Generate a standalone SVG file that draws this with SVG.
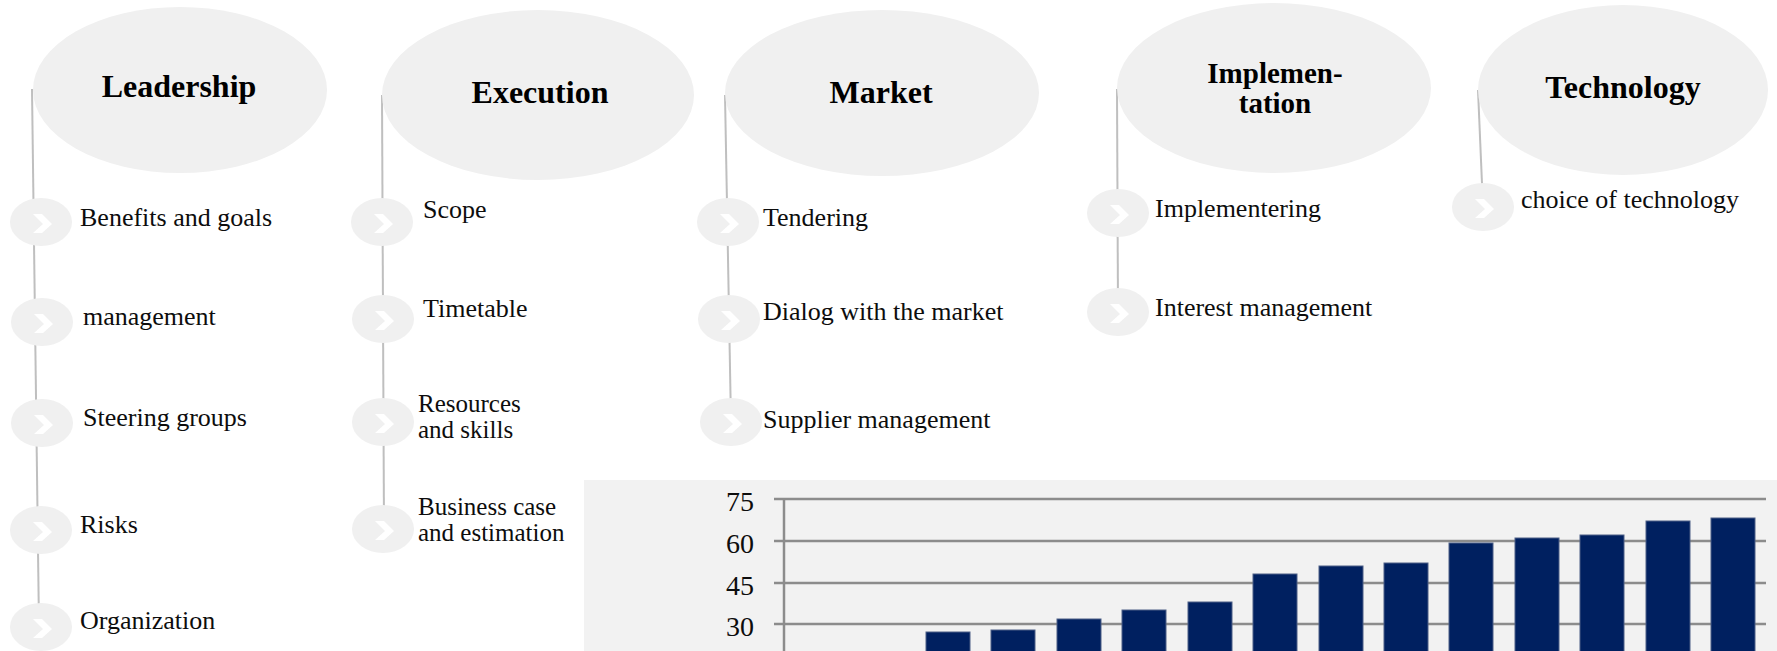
<svg xmlns="http://www.w3.org/2000/svg" width="1777" height="651" viewBox="0 0 1777 651">
<style>
.head{fill:#f0f0f0}
.bul{fill:#f0f0f0}
.chev{fill:#ffffff}
.conn{stroke:#bfbfbf;stroke-width:2;fill:none}
.ht{font-family:"Liberation Serif",serif;font-weight:bold;font-size:32px;fill:#000;text-anchor:middle}
.ht2{font-family:"Liberation Serif",serif;font-weight:bold;font-size:29px;fill:#000;text-anchor:middle}
.it{font-family:"Liberation Serif",serif;font-size:26px;fill:#0d0d0d}
.it2{font-family:"Liberation Serif",serif;font-size:25px;fill:#0d0d0d}
.ax{font-family:"Liberation Serif",serif;font-size:28px;fill:#0d0d0d;text-anchor:end}
.grid{stroke:#8c8c8c;stroke-width:2.5}
.bar{fill:#002060;stroke:#4d5f86;stroke-width:1}
</style>
<defs>
<g id="bullet">
<ellipse cx="0" cy="0" rx="31" ry="24" class="bul"/>
<path class="chev" d="M -8,-8 L 1,-8 L 11,2 L 1,11 L -8,11 L 2,2 Z"/>
</g>
</defs>
<rect width="1777" height="651" fill="#ffffff"/>
<g id="connectors">
<line class="conn" x1="32" y1="89" x2="39" y2="627"/>
<line class="conn" x1="382" y1="95" x2="384" y2="529"/>
<line class="conn" x1="725" y1="95" x2="731" y2="422"/>
<line class="conn" x1="1117" y1="89" x2="1118" y2="312"/>
<line class="conn" x1="1478" y1="90" x2="1483" y2="207"/>
</g>
<g id="leadership">
<ellipse class="head" cx="180" cy="90" rx="147" ry="83"/>
<text class="ht" x="179" y="97">Leadership</text>
</g>
<g id="execution">
<ellipse class="head" cx="538" cy="95" rx="156" ry="85"/>
<text class="ht" x="540" y="103">Execution</text>
</g>
<g id="market">
<ellipse class="head" cx="882" cy="93" rx="157" ry="83"/>
<text class="ht" x="881" y="103">Market</text>
</g>
<g id="implementation">
<ellipse class="head" cx="1274" cy="88" rx="157" ry="85"/>
<text class="ht2" x="1275" y="83">Implemen-</text>
<text class="ht2" x="1275" y="113">tation</text>
</g>
<g id="technology">
<ellipse class="head" cx="1623" cy="90" rx="145" ry="85"/>
<text class="ht" x="1623" y="98">Technology</text>
</g>
<g id="l1"><use href="#bullet" x="41" y="222"/><text class="it" x="80" y="226">Benefits and goals</text></g>
<g id="l2"><use href="#bullet" x="42" y="322"/><text class="it" x="83" y="325">management</text></g>
<g id="l3"><use href="#bullet" x="42" y="423"/><text class="it" x="83" y="426">Steering groups</text></g>
<g id="l4"><use href="#bullet" x="41" y="530"/><text class="it" x="80" y="533">Risks</text></g>
<g id="l5"><use href="#bullet" x="41" y="627"/><text class="it" x="80" y="629">Organization</text></g>
<g id="e1"><use href="#bullet" x="382" y="222"/><text class="it" x="423" y="218">Scope</text></g>
<g id="e2"><use href="#bullet" x="383" y="319"/><text class="it" x="423" y="317">Timetable</text></g>
<g id="e3"><use href="#bullet" x="383" y="422"/><text class="it2" x="418" y="412">Resources</text><text class="it2" x="418" y="438">and skills</text></g>
<g id="e4"><use href="#bullet" x="383" y="529"/><text class="it2" x="418" y="515">Business case</text><text class="it2" x="418" y="541">and estimation</text></g>
<g id="m1"><use href="#bullet" x="728" y="222"/><text class="it" x="763" y="226">Tendering</text></g>
<g id="m2"><use href="#bullet" x="729" y="319"/><text class="it" x="763" y="320">Dialog with the market</text></g>
<g id="m3"><use href="#bullet" x="731" y="422"/><text class="it" x="763" y="428">Supplier management</text></g>
<g id="i1"><use href="#bullet" x="1118" y="213"/><text class="it" x="1155" y="217">Implementering</text></g>
<g id="i2"><use href="#bullet" x="1118" y="312"/><text class="it" x="1155" y="316">Interest management</text></g>
<g id="t1"><use href="#bullet" x="1483" y="207"/><text class="it" x="1521" y="208">choice of technology</text></g>
<g id="chart">
<rect x="584" y="480" width="1193" height="171" fill="#f2f2f2"/>
<line class="grid" x1="774" y1="499" x2="1766" y2="499"/>
<line class="grid" x1="774" y1="541" x2="1766" y2="541"/>
<line class="grid" x1="774" y1="583" x2="1766" y2="583"/>
<line class="grid" x1="774" y1="624" x2="1766" y2="624"/>
<line class="grid" x1="784" y1="499" x2="784" y2="651"/>
<text class="ax" x="754" y="511">75</text>
<text class="ax" x="754" y="553">60</text>
<text class="ax" x="754" y="595">45</text>
<text class="ax" x="754" y="636">30</text>
<rect class="bar" x="926" y="632" width="44" height="30"/>
<rect class="bar" x="991" y="630" width="44" height="30"/>
<rect class="bar" x="1057" y="619" width="44" height="40"/>
<rect class="bar" x="1122" y="610" width="44" height="50"/>
<rect class="bar" x="1188" y="602" width="44" height="60"/>
<rect class="bar" x="1253" y="574" width="44" height="90"/>
<rect class="bar" x="1319" y="566" width="44" height="90"/>
<rect class="bar" x="1384" y="563" width="44" height="90"/>
<rect class="bar" x="1449" y="543" width="44" height="110"/>
<rect class="bar" x="1515" y="538" width="44" height="120"/>
<rect class="bar" x="1580" y="535" width="44" height="120"/>
<rect class="bar" x="1646" y="521" width="44" height="140"/>
<rect class="bar" x="1711" y="518" width="44" height="140"/>
</g>
</svg>
